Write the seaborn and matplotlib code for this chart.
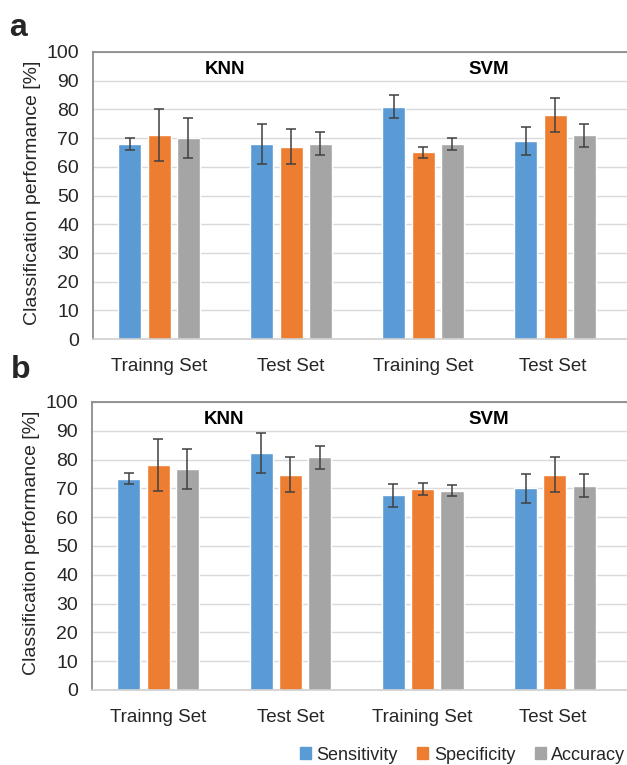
import matplotlib
matplotlib.use("Agg")
import matplotlib.pyplot as plt
import seaborn as sns
import pandas as pd
import numpy as np

sets = ["Trainng Set", "Test Set", "Training Set", "Test Set "]
metrics = ["Sensitivity", "Specificity", "Accuracy"]

# Panel a
a_sens = [68, 68, 81, 69]
a_spec = [71, 67, 65, 78]
a_acc = [70, 68, 68, 71]
a_sens_err = [2, 7, 4, 5]
a_spec_err = [9, 6, 2, 6]
a_acc_err = [7, 4, 2, 4]

# Panel b
b_sens = [73.4, 82.2, 67.6, 70.0]
b_spec = [78.0, 74.8, 69.8, 74.8]
b_acc = [76.8, 80.8, 69.2, 71.0]
b_sens_err = [2, 7, 4, 5]
b_spec_err = [9, 6, 2, 6]
b_acc_err = [7, 4, 2, 4]

colors = ["#5B9BD5", "#ED7D31", "#A5A5A5"]

sns.set_theme(style="white")
plt.rcParams["font.family"] = ["Liberation Sans", "DejaVu Sans"]

W, H = 627, 765
fig = plt.figure(figsize=(W / 100, H / 100), dpi=100)


def make_df(s, p, a, se, pe, ae):
    rows = []
    for vals, errs, m in [(s, se, metrics[0]), (p, pe, metrics[1]), (a, ae, metrics[2])]:
        for st, v, e in zip(sets, vals, errs):
            rows.append({"set": st, "metric": m, "value": v, "err": e})
    return pd.DataFrame(rows)


def draw(ax, df):
    sns.barplot(data=df, x="set", y="value", hue="metric", order=sets,
                hue_order=metrics, palette=colors, errorbar=None,
                width=0.666, gap=0.215, ax=ax, saturation=1, legend=True)
    for container, m in zip(ax.containers, metrics):
        sub = df[df.metric == m].set_index("set").loc[sets]
        xs = [b.get_x() + b.get_width() / 2 for b in container]
        ax.errorbar(xs, sub["value"].values, yerr=sub["err"].values, fmt="none",
                    ecolor="#404040", elinewidth=1.1, capsize=3.5, capthick=1.1, zorder=5)
    ax.set_ylim(0, 100)
    ax.set_xlim(-0.5, 3.545)
    ax.set_yticks(range(0, 101, 10))
    ax.yaxis.grid(True, color="#D9D9D9", linewidth=1)
    ax.set_axisbelow(True)
    ax.tick_params(axis="y", length=0, pad=10, labelsize=14, colors="#262626")
    ax.tick_params(axis="x", length=0, pad=14, labelsize=13.5, colors="#262626")
    ax.set_xlabel("")
    ax.set_ylabel("Classification performance [%]", fontsize=14, color="#262626")
    ax.yaxis.set_label_coords(-0.097, 0.51)
    for sp in ["top", "left"]:
        ax.spines[sp].set_color("#8C8C8C")
        ax.spines[sp].set_linewidth(1.3)
    ax.spines["bottom"].set_color("#D0D0D0")
    ax.spines["bottom"].set_linewidth(1.2)
    ax.spines["right"].set_visible(False)
    ax.text(0.5, 94, "KNN", ha="center", va="center", fontsize=13.5, fontweight="bold", color="black")
    ax.text(2.5, 94, "SVM", ha="center", va="center", fontsize=13.5, fontweight="bold", color="black")
    ax.get_legend().remove()


ax1 = fig.add_axes([93 / W, 1 - 339 / H, (W - 93) / W, 287 / H])
ax2 = fig.add_axes([92 / W, 1 - 690 / H, (W - 92) / W, 288 / H])

draw(ax1, make_df(a_sens, a_spec, a_acc, a_sens_err, a_spec_err, a_acc_err))
draw(ax2, make_df(b_sens, b_spec, b_acc, b_sens_err, b_spec_err, b_acc_err))

fig.text(18 / W, 1 - 28 / H, "a", fontsize=23, fontweight="bold", ha="center", va="center")
fig.text(21 / W, 1 - 370 / H, "b", fontsize=23, fontweight="bold", ha="center", va="center")

handles = [plt.Rectangle((0, 0), 1, 1, color=c) for c in colors]
fig.legend(handles, metrics, loc="center right", bbox_to_anchor=(1.0, 1 - 755 / H),
           ncol=3, frameon=False, fontsize=13, handlelength=0.6, handleheight=0.6,
           handletextpad=0.3, columnspacing=1.1, borderaxespad=0, borderpad=0.1)

fig.savefig("out.png", dpi=100)
